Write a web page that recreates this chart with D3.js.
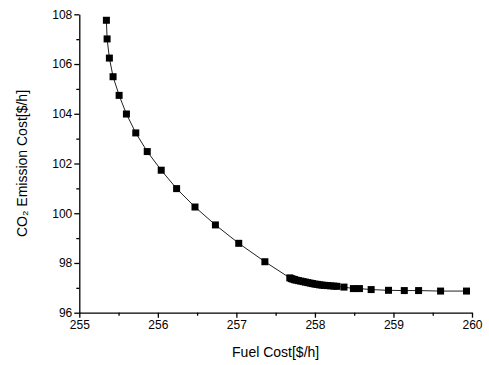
<!DOCTYPE html>
<html>
<head>
<meta charset="utf-8">
<script src="https://cdn.jsdelivr.net/npm/d3@7"></script>
<style>
  body { margin: 0; background: #fff; }
  svg { font-family: Arial, "Liberation Sans", sans-serif; }
</style>
</head>
<body>
<svg id="chart" width="489" height="365"></svg>
<script>
// fuel cost [$/h]
var fuelCost = [
    255.345, 255.354, 255.383, 255.43, 255.507, 255.60, 255.719, 255.865,
    256.043, 256.239, 256.473, 256.733, 257.03, 257.363,
    257.68, 257.70, 257.72, 257.74, 257.76, 257.79, 257.82, 257.85, 257.88,
    257.91, 257.94, 257.97, 258.00, 258.03, 258.06, 258.09, 258.12, 258.16,
    258.20, 258.24, 258.28,
    258.37, 258.49, 258.567, 258.716, 258.937, 259.138, 259.32, 259.60, 259.93
];
// CO2 emission cost [$/h]
var emissionCost = [
    107.76, 107.01, 106.24, 105.49, 104.74, 103.99, 103.23, 102.48,
    101.73, 100.99, 100.25, 99.53, 98.79, 98.05,
    97.40, 97.37, 97.35, 97.33, 97.31, 97.29, 97.27, 97.25, 97.23,
    97.21, 97.19, 97.17, 97.15, 97.14, 97.12, 97.11, 97.10, 97.09,
    97.08, 97.07, 97.06,
    97.03, 96.97, 96.97, 96.93, 96.90, 96.89, 96.89, 96.87, 96.87
];
var xTicks = [255, 256, 257, 258, 259, 260];
var yTicks = [96, 98, 100, 102, 104, 106, 108];
var xMinor = [255.5, 256.5, 257.5, 258.5, 259.5];
var yMinor = [97, 99, 101, 103, 105, 107];

var data = fuelCost.map((f, i) => ({ fuel: f, co2: emissionCost[i] }));

var svg = d3.select("#chart");
var margin = { top: 14, right: 17, bottom: 52, left: 80 };
var width = 489, height = 365;

var x = d3.scaleLinear()
    .domain([255, 260])
    .range([margin.left - 0.7, width - margin.right]);
var y = d3.scaleLinear()
    .domain([96, 108])
    .range([height - margin.bottom - 0.3, margin.top + 0.3]);

// minor ticks
svg.append("g")
    .attr("transform", `translate(0,${y(96)})`)
    .call(d3.axisBottom(x).tickValues(xMinor).tickSize(3).tickFormat(""))
    .call(g => g.select(".domain").remove());
svg.append("g")
    .attr("transform", `translate(${x(255)},0)`)
    .call(d3.axisLeft(y).tickValues(yMinor).tickSize(3).tickFormat(""))
    .call(g => g.select(".domain").remove());

// major axes
svg.append("g")
    .attr("transform", `translate(0,${y(96)})`)
    .call(d3.axisBottom(x).tickValues(xTicks).tickFormat(d3.format("d"))
        .tickSize(5).tickSizeOuter(0).tickPadding(3));
svg.append("g")
    .attr("transform", `translate(${x(255)},0)`)
    .call(d3.axisLeft(y).tickValues(yTicks).tickFormat(d3.format("d"))
        .tickSize(5).tickSizeOuter(0).tickPadding(2));

svg.selectAll(".tick line, .domain").attr("stroke", "#000").attr("stroke-width", 1.3);
svg.selectAll(".tick text")
    .attr("font-size", 12)
    .attr("fill", "#000")
    .attr("font-family", "Arial, 'Liberation Sans', sans-serif");

// axis titles
svg.append("text")
    .attr("x", (x(255) + x(260)) / 2)
    .attr("y", 357)
    .attr("text-anchor", "middle")
    .attr("font-size", 14)
    .text("Fuel Cost[$/h]");
svg.append("text")
    .attr("transform", `translate(27,${(y(96) + y(108)) / 2}) rotate(-90)`)
    .attr("text-anchor", "middle")
    .attr("font-size", 14)
    .text("CO\u2082 Emission Cost[$/h]");

// curve
var line = d3.line()
    .x(d => x(d.fuel))
    .y(d => y(d.co2));
svg.append("path")
    .datum(data)
    .attr("fill", "none")
    .attr("stroke", "#222")
    .attr("stroke-width", 1)
    .attr("d", line);

// markers
var s = 7;
svg.append("g")
    .selectAll("rect")
    .data(data)
    .join("rect")
    .attr("x", d => x(d.fuel) - s / 2)
    .attr("y", d => y(d.co2) - s / 2)
    .attr("width", s)
    .attr("height", s)
    .attr("fill", "#000");
</script>
</body>
</html>
